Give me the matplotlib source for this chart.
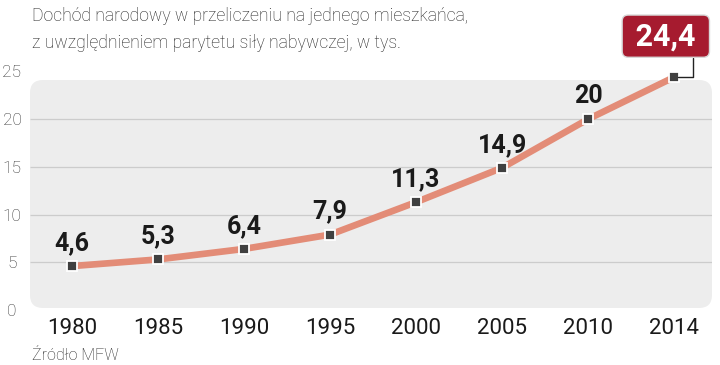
import matplotlib
matplotlib.use('Agg')
import matplotlib.pyplot as plt
from matplotlib.patches import FancyBboxPatch

# Dochód narodowy na mieszkańca (PPP), tys.
years = ['1980', '1985', '1990', '1995', '2000', '2005', '2010', '2014']
values = [4.6, 5.3, 6.4, 7.9, 11.3, 14.9, 20, 24.4]
labels = ['4,6', '5,3', '6,4', '7,9', '11,3', '14,9', '20', '24,4']
yticks = [0, 5, 10, 15, 20, 25]
grid_vals = [5, 10, 15, 20]

title1 = 'Dochód narodowy w przeliczeniu na jednego mieszkańca,'
title2 = 'z uwzględnieniem parytetu siły nabywczej, w tys.'
source = 'Źródło MFW'

fig = plt.figure(figsize=(7.2, 3.65), dpi=100)
ax = fig.add_axes([30 / 720, 55 / 365, 682 / 720, 238.6 / 365])
ax.set_facecolor('none')

# szare tło z zaokrąglonymi rogami
bg = FancyBboxPatch((30 / 720, 57 / 365), 682 / 720, 228 / 365,
                    boxstyle='round,pad=0,rounding_size=0.018',
                    mutation_aspect=720 / 365,
                    transform=fig.transFigure, facecolor='#ededed',
                    edgecolor='none', zorder=-5)
fig.patches.append(bg)

x = list(range(len(years)))
ax.hlines(grid_vals, -0.488, 7.44, color='#cccccc', lw=0.9, zorder=1)
ax.plot(x, values, color='#e38c77', lw=4.8, solid_capstyle='round', zorder=2)
ax.plot(x, values, 's', ms=6.5, mfc='#404040', mec='white', mew=1.3, zorder=3)

bold = dict(family='Roboto', fontweight='bold')
for i in range(len(values) - 1):
    ax.annotate(labels[i], (x[i], values[i]), xytext=(0, 11.5), textcoords='offset points',
                ha='center', va='baseline', fontsize=18, color='#1a1a1a', **bold)

ax.annotate(' ' + labels[-1] + ' ', (x[-1], values[-1]), xytext=(-6, 29.5),
            textcoords='offset points', ha='center', va='center',
            fontsize=22, color='white', zorder=4,
            bbox=dict(boxstyle='round,pad=0.2,rounding_size=0.2', fc='#a61b2f',
                      ec='#d8d8d8', lw=1),
            arrowprops=dict(arrowstyle='-', color='#222222', lw=1, relpos=(0.86, 0),
                            connectionstyle='angle,angleA=90,angleB=0,rad=0',
                            shrinkA=0, shrinkB=3),
            **bold)

ax.set_xlim(-0.488, 7.44)
ax.set_ylim(0, 25)
ax.set_xticks(x)
ax.set_xticklabels(years, fontsize=16, family='Roboto', color='#1a1a1a')
ax.set_yticks(yticks)
ax.set_yticklabels([str(v) for v in yticks], fontsize=12.5, family='Roboto',
                   fontweight='light', color='#333333', ha='center')
ax.tick_params(axis='y', length=0, pad=13)
ax.tick_params(axis='x', length=0, pad=6)
for s in ax.spines.values():
    s.set_visible(False)

fig.text(32 / 720, 1 - 16 / 365, title1, ha='left', va='center', fontsize=12.7,
         family='Roboto', fontweight='light', color='#222222')
fig.text(32 / 720, 1 - 43 / 365, title2, ha='left', va='center', fontsize=12.7,
         family='Roboto', fontweight='light', color='#222222')
fig.text(32 / 720, 1 - 355 / 365, source, ha='left', va='center', fontsize=11.5,
         family='Roboto', fontweight='light', color='#222222')

fig.savefig('out.png', dpi=100)
